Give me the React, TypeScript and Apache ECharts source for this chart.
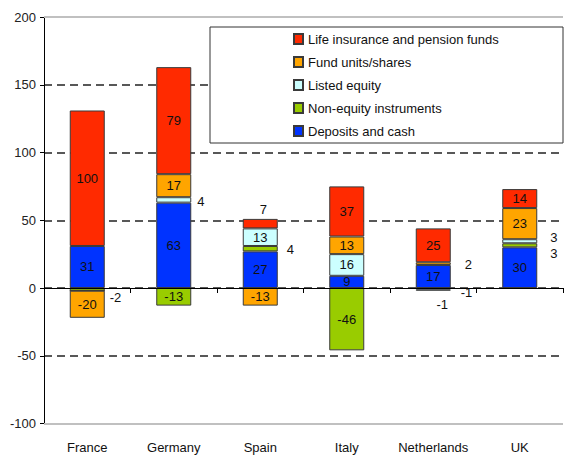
import React, { useEffect, useRef } from "react";
import * as echarts from "echarts";

const categories = ["France", "Germany", "Spain", "Italy", "Netherlands", "UK"];
const seriesNames = [
  "Deposits and cash",
  "Non-equity instruments",
  "Listed equity",
  "Fund units/shares",
  "Life insurance and pension funds",
];
const depositsAndCash = [31, 63, 27, 9, 17, 30];
const nonEquityInstruments = [-2, -13, 4, -46, -1, 3];
const listedEquity = [0, 4, 13, 16, -1, 3];
const fundUnitsShares = [-20, 17, -13, 13, 2, 23];
const lifeInsurancePension = [100, 79, 7, 37, 25, 14];
const yTicks = [-100, -50, 0, 50, 100, 150, 200];
const legendOrder = [
  "Life insurance and pension funds",
  "Fund units/shares",
  "Listed equity",
  "Non-equity instruments",
  "Deposits and cash",
];

const seriesValues = [
  depositsAndCash,
  nonEquityInstruments,
  listedEquity,
  fundUnitsShares,
  lifeInsurancePension,
];
const colors = ["#0033FF", "#99CC00", "#CCFFFF", "#FFA500", "#FF2A00"];

const FONT = "'Liberation Sans', Arial, sans-serif";
const FS = 13;

// label placement overrides for small segments: "seriesIndex|categoryIndex"
const labelOverrides: Record<string, any> = {
  "1|0": { position: "right", distance: 5, offset: [0, 8] },
  "2|1": { position: "right", distance: 6, offset: [0, 2] },
  "1|2": { position: "right", distance: 9, offset: [0, 1] },
  "4|2": { position: "top", distance: 3, offset: [3, 0] },
  "3|4": { position: "right", distance: 14, offset: [0, 1] },
  "1|4": { position: "right", distance: 10, offset: [0, 4] },
  "2|4": { position: "bottom", distance: 7, offset: [9, 0] },
  "2|5": { position: "right", distance: 13, offset: [0, -4] },
  "1|5": { position: "right", distance: 13, offset: [0, 8] },
};

export default function App() {
  const ref = useRef<HTMLDivElement>(null);
  useEffect(() => {
    if (!ref.current) return;
    const chart = echarts.init(ref.current, null, { renderer: "svg" });

    const series: any[] = seriesNames.map((name, si) => ({
      name,
      type: "bar",
      stack: "total",
      xAxisIndex: 0,
      barWidth: 35,
      itemStyle: { color: colors[si], borderColor: "#3a3a3a", borderWidth: 1 },
      data: seriesValues[si].map((v, ci) => {
        const ov = labelOverrides[`${si}|${ci}`];
        return {
          value: v,
          label: {
            show: v !== 0,
            position: ov ? ov.position : "inside",
            distance: ov ? ov.distance : 5,
            offset: ov ? ov.offset : [0, 0],
            color: "#111",
            fontFamily: FONT,
            fontSize: FS,
          },
        };
      }),
    }));
    series[0].markLine = {
      silent: true,
      symbol: "none",
      label: { show: false },
      lineStyle: { color: "#c0c0c0", width: 2, type: "solid" },
      data: [{ yAxis: yTicks[yTicks.length - 1] }, { yAxis: yTicks[0] }],
    };

    chart.setOption({
      animation: false,
      backgroundColor: "#fff",
      grid: { left: 44, right: 2, top: 17, bottom: 32.5 },
      xAxis: [
        {
          type: "category",
          data: categories,
          axisLine: { onZero: true, lineStyle: { color: "#000", width: 1 } },
          axisTick: { show: true, length: 5, lineStyle: { color: "#000" } },
          axisLabel: { show: false },
          z: 5,
        },
        {
          type: "category",
          data: categories,
          position: "bottom",
          axisLine: { show: false },
          axisTick: { show: false },
          axisLabel: { interval: 0, margin: 17, color: "#111", fontFamily: FONT, fontSize: FS },
        },
      ],
      yAxis: {
        type: "value",
        min: yTicks[0],
        max: yTicks[yTicks.length - 1],
        interval: 50,
        axisLine: { show: true, lineStyle: { color: "#000", width: 1 } },
        axisTick: { show: true, length: 4, lineStyle: { color: "#000" } },
        axisLabel: { margin: 8, color: "#222", fontFamily: FONT, fontSize: FS },
        splitLine: {
          show: true,
          lineStyle: { color: "#222", width: 1.5, type: [8, 5] },
        },
      },
      legend: {
        data: legendOrder,
        orient: "vertical",
        left: 293,
        top: 31.5,
        padding: 0,
        itemWidth: 9,
        itemHeight: 10,
        itemGap: 8,
        icon: "rect",
        z: 200,
        textStyle: { color: "#111", fontFamily: FONT, fontSize: FS, lineHeight: 15 },
      },
      graphic: [
        {
          type: "rect",
          z: 100,
          shape: { x: 210, y: 27, width: 353, height: 116 },
          style: { fill: "#fff", stroke: "#333", lineWidth: 1 },
        },
      ],
      series,
    });
    return () => chart.dispose();
  }, []);
  return (
    <div
      ref={ref}
      style={{ position: "absolute", left: 0, top: 0, width: 565, height: 456 }}
    />
  );
}
